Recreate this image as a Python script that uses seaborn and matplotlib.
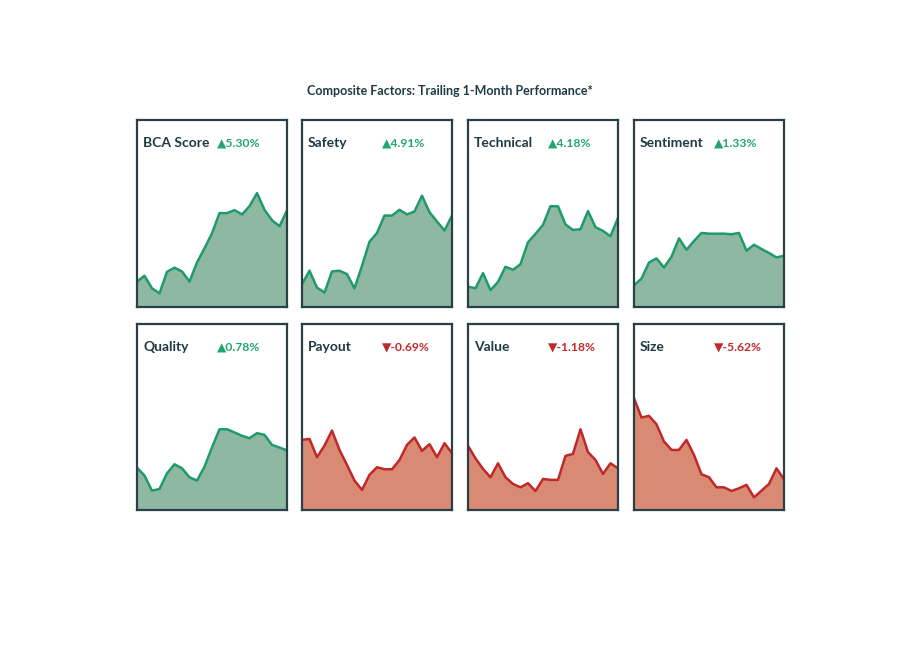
import numpy as np
import pandas as pd
import matplotlib
matplotlib.use("Agg")
import matplotlib.pyplot as plt
import seaborn as sns

sns.set_style("white")
plt.rcParams['font.family'] = ['Lato', 'DejaVu Sans']

title = "Composite Factors: Trailing 1-Month Performance*"
factors = ["BCA Score", "Safety", "Technical", "Sentiment",
           "Quality", "Payout", "Value", "Size"]
changes = [5.30, 4.91, 4.18, 1.33, 0.78, -0.69, -1.18, -5.62]
days = list(range(1, 22))

bca_score = [13.6, 16.7, 10.0, 7.3, 18.8, 21.0, 19.0, 13.6, 23.8, 31.4, 39.4,
             50.2, 50.2, 51.8, 49.5, 53.9, 60.9, 52.0, 46.4, 43.2, 51.6]
safety = [12.2, 19.4, 10.4, 7.7, 19.0, 19.4, 17.6, 10.0, 22.0, 34.9, 39.6,
          48.9, 48.9, 52.0, 49.5, 51.1, 59.5, 50.7, 45.7, 40.9, 48.9]
technical = [10.9, 10.0, 18.1, 9.0, 13.4, 21.5, 19.9, 22.9, 34.6, 39.1, 43.9,
             53.9, 53.9, 44.1, 41.2, 41.6, 51.3, 42.7, 40.7, 37.8, 47.7]
sentiment = [11.6, 15.2, 23.8, 26.0, 21.1, 26.9, 36.7, 30.6, 35.3, 39.6, 39.2,
             39.2, 39.2, 38.9, 39.6, 30.1, 33.3, 31.0, 28.9, 26.5, 27.4]
quality = [22.8, 18.5, 10.4, 11.3, 19.7, 24.6, 22.4, 17.6, 15.8, 23.3, 33.6,
           43.4, 43.4, 41.7, 39.9, 38.6, 41.3, 40.4, 35.0, 33.6, 32.0]
payout = [37.7, 38.2, 28.4, 34.6, 42.7, 32.3, 24.2, 15.8, 10.8, 18.9, 23.0,
          21.9, 21.9, 26.9, 35.0, 39.0, 31.8, 35.4, 28.4, 35.9, 30.5]
value = [34.5, 27.8, 22.1, 17.6, 25.1, 17.6, 14.0, 12.2, 14.4, 10.2, 16.7,
         16.2, 16.2, 29.1, 30.2, 43.4, 31.1, 26.9, 19.4, 25.1, 22.4]
size = [60.1, 49.7, 50.6, 46.1, 36.8, 32.3, 32.3, 37.7, 29.6, 19.2, 17.6,
        12.2, 12.2, 10.2, 11.7, 13.5, 6.8, 10.4, 14.0, 22.4, 16.5]

series = [bca_score, safety, technical, sentiment, quality, payout, value, size]

GREEN_LINE = "#1f9a6c"
GREEN_FILL = "#8fb8a3"
GREEN_TEXT = "#22a571"
RED_LINE = "#c0282a"
RED_FILL = "#d88a72"
RED_TEXT = "#c0282a"
DARK = "#1f3a44"
BORDER = "#2b4046"

W, H = 911, 653
fig = plt.figure(figsize=(W / 100, H / 100), dpi=100)
fig.patch.set_facecolor("white")

col_x = [137, 302, 468, 634]
row_y = [(120, 307), (324, 510)]
pw = 150

for i, (name, chg, vals) in enumerate(zip(factors, changes, series)):
    r, c = divmod(i, 4)
    top, bot = row_y[r]
    ax = fig.add_axes([col_x[c] / W, 1 - bot / H, pw / W, (bot - top) / H])
    df = pd.DataFrame({"day": days, "level": vals})
    up = chg >= 0
    lc = GREEN_LINE if up else RED_LINE
    fc = GREEN_FILL if up else RED_FILL
    tc = GREEN_TEXT if up else RED_TEXT
    ax.fill_between(df["day"], df["level"], 0, color=fc, linewidth=0, zorder=1)
    sns.lineplot(data=df, x="day", y="level", ax=ax, color=lc, linewidth=1.8,
                 zorder=2)
    ax.set_xlim(days[0], days[-1])
    ax.set_ylim(0, 100)
    ax.set_xticks([])
    ax.set_yticks([])
    ax.set_xlabel("")
    ax.set_ylabel("")
    for s in ax.spines.values():
        s.set_visible(True)
        s.set_color(BORDER)
        s.set_linewidth(1.6)
        s.set_zorder(5)
    ax.text(6 / pw, 0.875, name, transform=ax.transAxes, fontsize=10,
            fontweight="bold", color=DARK, va="center", ha="left")
    arrow = "\u25b2" if up else "\u25bc"
    ax.text(80 / pw, 0.875, f"{arrow}{chg:.2f}%", transform=ax.transAxes,
            fontsize=8.7, fontweight="bold", color=tc, va="center", ha="left")

fig.text(450 / W, 1 - 91 / H, title, ha="center", va="center", fontsize=9,
         fontweight="bold", color=DARK)

fig.savefig("out.png", dpi=100, facecolor="white")
